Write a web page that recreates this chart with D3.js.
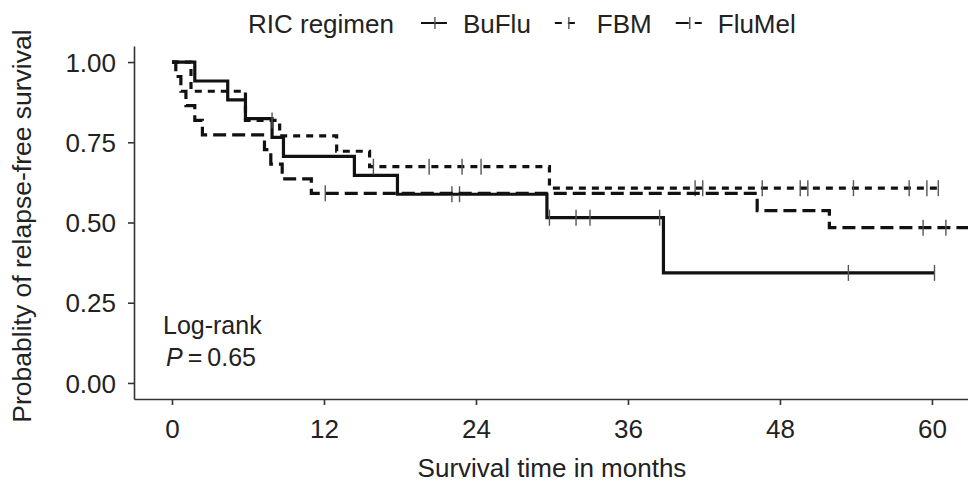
<!DOCTYPE html>
<html>
<head>
<meta charset="utf-8">
<script src="https://cdn.jsdelivr.net/npm/d3@7"></script>
<style>
  body { margin: 0; background: #fff; }
  svg { display: block; font-family: "Liberation Sans", Arial, Helvetica, sans-serif; }
</style>
</head>
<body>
<svg id="chart" width="968" height="491"></svg>
<script>
// RIC regimen groups
var groups = ["BuFlu", "FBM", "FluMel"];

// step curves: month of each drop and the survival right after it
var buFluTime = [0, 1.8, 4.4, 5.8, 7.9, 8.8, 14.4, 17.8, 29.6, 38.8, 60.2];
var buFluSurv = [1, 0.941, 0.882, 0.824, 0.765, 0.706, 0.647, 0.588, 0.515, 0.343, 0.343];
var buFluCensor = [22.1, 22.7, 29.8, 31.9, 33.0, 38.5, 53.4, 60.2];

var fbmTime = [0, 1.5, 5.8, 8.5, 13.0, 15.6, 29.8, 60.5];
var fbmSurv = [1, 0.909, 0.818, 0.770, 0.722, 0.674, 0.607, 0.607];
var fbmCensor = [7.9, 15.9, 20.3, 22.9, 24.4, 41.3, 41.9, 46.6, 49.6, 50.2, 53.8, 58.2, 59.6, 60.5];

var fluMelTime = [0, 0.3, 0.7, 1.1, 1.8, 2.4, 7.3, 7.8, 8.7, 11.0, 46.2, 51.9, 63.0];
var fluMelSurv = [1, 0.955, 0.909, 0.864, 0.818, 0.773, 0.727, 0.682, 0.636, 0.591, 0.537, 0.484, 0.484];
var fluMelCensor = [12.1, 59.3, 61.1];

var xTicks = [0, 12, 24, 36, 48, 60];
var yTicks = [0, 0.25, 0.5, 0.75, 1];

var dashes = { "BuFlu": null, "FBM": "7,6", "FluMel": "13,6" };

var series = [
	{ name: "BuFlu", time: buFluTime, surv: buFluSurv, censor: buFluCensor },
	{ name: "FBM", time: fbmTime, surv: fbmSurv, censor: fbmCensor },
	{ name: "FluMel", time: fluMelTime, surv: fluMelSurv, censor: fluMelCensor }
];

var svg = d3.select("#chart");

var x = d3.scaleLinear().domain([-3, 63.2]).range([134, 972.5]);
var y = d3.scaleLinear().domain([-0.05, 1.05]).range([399, 46]);

// survival of a curve at time t (step function)
function survAt(s, t) {
	var v = s.surv[0];
	for (var i = 0; i < s.time.length; i++) {
		if (s.time[i] <= t) v = s.surv[i];
	}
	return v;
}

var line = d3.line()
	.x(function(d) { return x(d[0]); })
	.y(function(d) { return y(d[1]); })
	.curve(d3.curveStepAfter);

var plot = svg.append("g");

series.forEach(function(s) {
	var pts = s.time.map(function(t, i) { return [t, s.surv[i]]; });

	plot.append("path")
		.datum(pts)
		.attr("d", line)
		.attr("fill", "none")
		.attr("stroke", "#111")
		.attr("stroke-width", 3.2)
		.attr("stroke-dasharray", dashes[s.name]);

	plot.selectAll(null)
		.data(s.censor)
		.enter()
		.append("line")
		.attr("x1", function(d) { return x(d); })
		.attr("x2", function(d) { return x(d); })
		.attr("y1", function(d) { return y(survAt(s, d)) - 8; })
		.attr("y2", function(d) { return y(survAt(s, d)) + 8; })
		.attr("stroke", "#555")
		.attr("stroke-width", 1.4);
});

// axes
var xAxis = svg.append("g")
	.attr("transform", "translate(0,399)")
	.call(d3.axisBottom(x).tickValues(xTicks).tickSize(6).tickSizeOuter(0).tickPadding(10));

var yAxis = svg.append("g")
	.attr("transform", "translate(134,0)")
	.call(d3.axisLeft(y).tickValues(yTicks).tickFormat(d3.format(".2f")).tickSize(6).tickSizeOuter(0).tickPadding(12));

[xAxis, yAxis].forEach(function(a) {
	a.select(".domain").attr("stroke", "#333").attr("stroke-width", 1.6);
	a.selectAll(".tick line").attr("stroke", "#333").attr("stroke-width", 1.6);
	a.selectAll(".tick text").attr("fill", "#222").style("font-size", "26px").style("font-family", null);
});
xAxis.selectAll(".tick text").attr("dy", null).attr("y", 39);
yAxis.selectAll(".tick text").attr("dy", "0.35em");

// axis titles
svg.append("text")
	.attr("x", x(30))
	.attr("y", 477)
	.attr("text-anchor", "middle")
	.attr("fill", "#222")
	.style("font-size", "26px")
	.text("Survival time in months");

svg.append("text")
	.attr("transform", "translate(31,226) rotate(-90)")
	.attr("text-anchor", "middle")
	.attr("fill", "#222")
	.style("font-size", "26.5px")
	.text("Probablity of relapse-free survival");

// log-rank annotation
svg.append("text")
	.attr("x", 163)
	.attr("y", 334)
	.attr("fill", "#222")
	.style("font-size", "25px")
	.text("Log-rank");

var pText = svg.append("text")
	.attr("x", 166)
	.attr("y", 366)
	.attr("fill", "#222")
	.style("font-size", "25px");
pText.append("tspan").style("font-style", "italic").text("P");
pText.append("tspan").text("\u2009=\u20090.65");

// legend
var legend = svg.append("g");
var lx = 248, ly = 33;
var title = legend.append("text")
	.attr("x", lx).attr("y", ly)
	.attr("fill", "#222")
	.style("font-size", "26px")
	.text("RIC regimen");
lx += title.node().getComputedTextLength() + 27;

groups.forEach(function(g) {
	legend.append("line")
		.attr("x1", lx).attr("x2", lx + 26)
		.attr("y1", ly - 10).attr("y2", ly - 10)
		.attr("stroke", "#111")
		.attr("stroke-width", 2)
		.attr("stroke-dasharray", dashes[g]);
	legend.append("line")
		.attr("x1", lx + 14).attr("x2", lx + 14)
		.attr("y1", ly - 16).attr("y2", ly - 4)
		.attr("stroke", "#555")
		.attr("stroke-width", 1.4);
	var t = legend.append("text")
		.attr("x", lx + 42).attr("y", ly)
		.attr("fill", "#222")
		.style("font-size", "26px")
		.text(g);
	lx += 42 + t.node().getComputedTextLength() + 24;
});
</script>
</body>
</html>
